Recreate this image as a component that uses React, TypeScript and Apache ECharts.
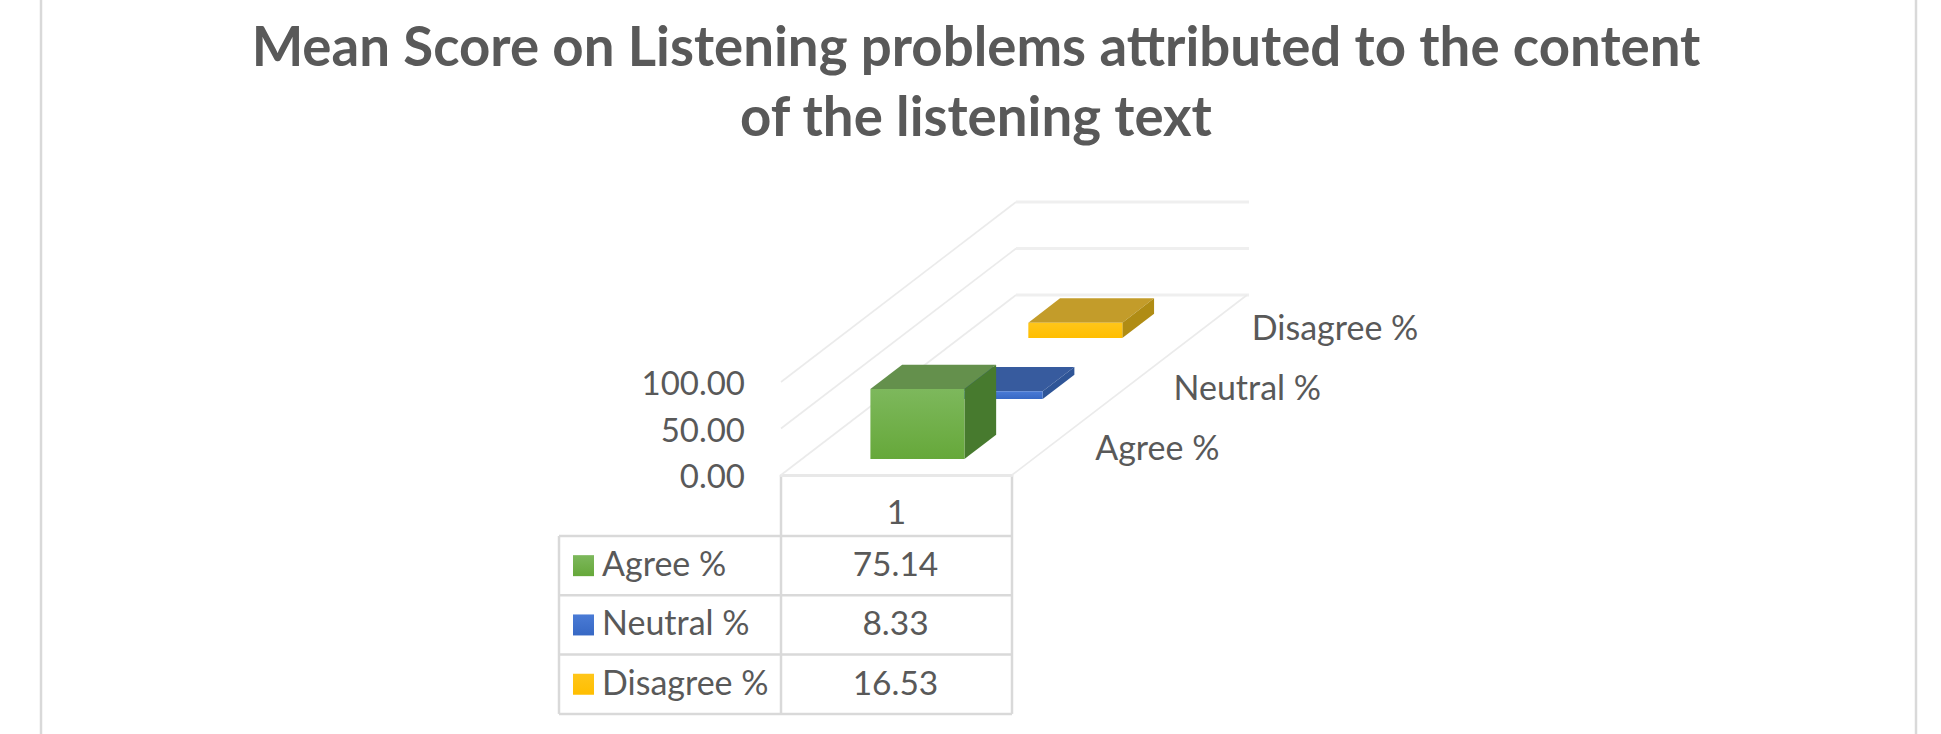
import React, { useEffect, useRef } from "react";
import * as echarts from "echarts";

const titleText = "Mean Score on Listening problems attributed to the content\nof the listening text";
const categories = ["1"];
const seriesNames = ["Agree %", "Neutral %", "Disagree %"];
const seriesValues = [75.14, 8.33, 16.53];
const axisTicks = [0, 50, 100];
const frontColors = [["#7DB85C", "#66A83A"], ["#4A7BD6", "#3768C4"], ["#FFC61A", "#FFBE00"]];
const topColors = ["#64904C", "#375B9E", "#C39C2A"];
const sideColors = ["#477A2E", "#2F5597", "#B08C14"];

const FONT = "Lato, Carlito, sans-serif";
const TEXT = "#595959";
const LINE = "#D9D9D9";
const GRID = { left: 781, top: 382, width: 231, height: 93 };
const DEPTH = { x: 235, y: -180 };
const BAR_WIDTH = 0.407;
const BAR_DEPTH = 0.135;
const ROW_FRONT = [0.089, 0.422, 0.761];

const gridLinesItem = (_: any, api: any) => {
  const v = api.value(1);
  const [x0, y] = api.coord([0, v]);
  const w = api.size([1, 0])[0];
  const left = x0 - w / 2;
  const lineStyle = { stroke: "#EBEBEB", lineWidth: 1.6, fill: null };
  const children: any[] = [
    { type: "line", shape: { x1: left, y1: y, x2: left + DEPTH.x, y2: y + DEPTH.y }, style: lineStyle },
    {
      type: "line",
      shape: { x1: left + DEPTH.x, y1: y + DEPTH.y, x2: left + DEPTH.x + w + 2, y2: y + DEPTH.y },
      style: { stroke: "#EFEFEF", lineWidth: 3 },
    },
  ];
  if (v === 0) {
    children.push({
      type: "line",
      shape: { x1: left + w, y1: y, x2: left + w + DEPTH.x, y2: y + DEPTH.y },
      style: lineStyle,
    });
  }
  return { type: "group", children };
};

const barItem = (row: number) => (_: any, api: any) => {
  const [cx, yTop] = api.coord([api.value(0), api.value(1)]);
  const [, yBase] = api.coord([api.value(0), 0]);
  const band = api.size([1, 0])[0];
  const w = band * BAR_WIDTH;
  const fx = ROW_FRONT[row] * DEPTH.x;
  const fy = ROW_FRONT[row] * DEPTH.y;
  const dx = BAR_DEPTH * DEPTH.x;
  const dy = BAR_DEPTH * DEPTH.y;
  const l = cx - w / 2 + fx;
  const r = cx + w / 2 + fx;
  const t = yTop + fy;
  const b = yBase + fy;
  const mid = (row + 0.5) / 3;
  return {
    type: "group",
    children: [
      {
        type: "polygon",
        shape: { points: [[l, t], [r, t], [r + dx, t + dy], [l + dx, t + dy]] },
        style: { fill: topColors[row] },
      },
      {
        type: "polygon",
        shape: { points: [[r, t], [r + dx, t + dy], [r + dx, b + dy], [r, b]] },
        style: { fill: sideColors[row] },
      },
      {
        type: "rect",
        shape: { x: l, y: t, width: r - l, height: b - t },
        style: {
          fill: new echarts.graphic.LinearGradient(0, 0, 0, 1, [
            { offset: 0, color: frontColors[row][0] },
            { offset: 1, color: frontColors[row][1] },
          ]),
        },
      },
      {
        type: "text",
        style: {
          text: seriesNames[row],
          x: cx + band / 2 + mid * DEPTH.x + 44,
          y: yBase + mid * DEPTH.y + 1.5,
          fill: TEXT,
          font: `34px ${FONT}`,
          align: "left",
          verticalAlign: "middle",
        },
      },
    ],
  };
};

const tableTop = 476;
const headerBottom = 536;
const rowHeight = 59.3;
const tableLeft = 559;
const colX = 781;
const tableRight = 1012;

const tableGraphics = () => {
  const els: any[] = [];
  const line = (x1: number, y1: number, x2: number, y2: number) =>
    els.push({ type: "line", shape: { x1, y1, x2, y2 }, style: { stroke: LINE, lineWidth: 2.5 } });
  const bottom = headerBottom + rowHeight * seriesNames.length;
  line(colX, tableTop, colX, bottom);
  line(tableRight, tableTop, tableRight, bottom);
  line(tableLeft, headerBottom, tableLeft, bottom);
  line(tableLeft, headerBottom, tableRight, headerBottom);
  seriesNames.forEach((name, i) => {
    const yEnd = headerBottom + rowHeight * (i + 1);
    const yMid = yEnd - rowHeight / 2;
    line(tableLeft, yEnd, tableRight, yEnd);
    els.push({
      type: "rect",
      shape: { x: 573, y: yMid - 10.5, width: 21, height: 21 },
      style: {
        fill: new echarts.graphic.LinearGradient(0, 0, 0, 1, [
          { offset: 0, color: frontColors[i][0] },
          { offset: 1, color: frontColors[i][1] },
        ]),
      },
    });
    els.push({
      type: "text",
      style: { text: name, x: 602, y: yMid - 3, fill: TEXT, font: `34px ${FONT}`, align: "left", verticalAlign: "middle" },
    });
    els.push({
      type: "text",
      style: {
        text: seriesValues[i].toFixed(2),
        x: (colX + tableRight) / 2 - 1,
        y: yMid - 2.5,
        fill: TEXT,
        font: `33.5px ${FONT}`,
        align: "center",
        verticalAlign: "middle",
      },
    });
  });
  [41, 1916].forEach((x) => line(x, 0, x, 734));
  return els;
};

export default function App() {
  const ref = useRef<HTMLDivElement>(null);
  useEffect(() => {
    document.body.style.margin = "0";
    const chart = echarts.init(ref.current!, undefined, { renderer: "svg" });
    chart.setOption({
      animation: false,
      backgroundColor: "#FFFFFF",
      title: {
        text: titleText,
        left: 971,
        top: 5,
        textAlign: "center",
        textStyle: { fontFamily: FONT, fontSize: 54.6, fontWeight: "bold", color: TEXT, lineHeight: 70 },
      },
      grid: { ...GRID },
      xAxis: {
        type: "category",
        data: categories,
        axisTick: { show: false },
        axisLine: { show: true, lineStyle: { color: "#E8E8E8", width: 3 } },
        axisLabel: { color: TEXT, fontFamily: FONT, fontSize: 33.5, margin: 19 },
      },
      yAxis: {
        type: "value",
        min: 0,
        max: 100,
        interval: 50,
        splitLine: { show: false },
        axisLine: { show: false },
        axisTick: { show: false },
        axisLabel: {
          color: TEXT,
          fontFamily: FONT,
          fontSize: 33,
          margin: 36,
          formatter: (v: number) => v.toFixed(2),
          padding: [13, 0, 0, 0],
        },
      },
      graphic: { elements: tableGraphics() },
      series: [
        {
          type: "custom",
          name: "grid",
          coordinateSystem: "cartesian2d",
          clip: false,
          silent: true,
          z: 1,
          encode: { x: 0, y: 1 },
          renderItem: gridLinesItem,
          data: axisTicks.map((t) => [0, t]),
        },
        ...seriesNames.map((name, i) => ({
          type: "custom",
          name,
          coordinateSystem: "cartesian2d",
          clip: false,
          silent: true,
          z: 5 - i,
          encode: { x: 0, y: 1 },
          renderItem: barItem(i),
          data: [[0, seriesValues[i]]],
        })),
      ],
    });
    return () => chart.dispose();
  }, []);
  return <div ref={ref} style={{ position: "absolute", left: 0, top: 0, width: 1941, height: 734, overflow: "hidden" }} />;
}
